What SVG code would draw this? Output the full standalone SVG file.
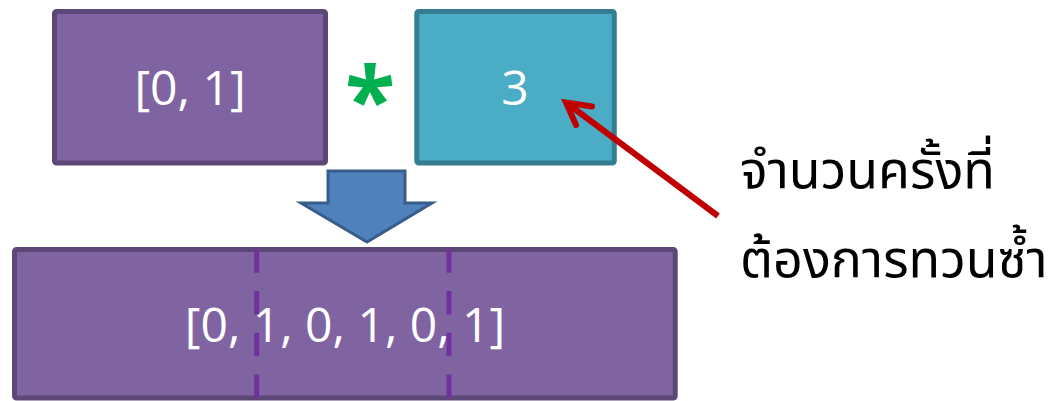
<svg xmlns="http://www.w3.org/2000/svg" width="1060" height="401" viewBox="0 0 1060 401">
<style>
.purple{fill:#8064A2;stroke:#5C4776;stroke-width:5}
.teal{fill:#4BACC6;stroke:#357D91;stroke-width:5}
.lbl{font-family:"Open Sans","Liberation Sans",sans-serif;font-size:48px;fill:#FFFFFF;text-anchor:middle}
.thai{font-family:"Noto Sans Thai","Noto Sans","Noto Sans CJK SC",sans-serif;font-size:52px;fill:#000000}
.dash{stroke:#7030A0;stroke-width:5;stroke-dasharray:23.5 18.2;fill:none}
</style>
<rect width="1060" height="401" fill="#FFFFFF"/>
<g id="node-list">
<rect class="purple" x="54.5" y="11.5" width="271" height="151.5" rx="2"/>
<text class="lbl" x="190" y="105">[0, 1]</text>
</g>
<g id="node-times">
<text x="370" y="133" font-family="Open Sans, Liberation Sans, sans-serif" font-weight="bold" font-size="92" fill="#00B050" text-anchor="middle">*</text>
</g>
<g id="node-count">
<rect class="teal" x="416.8" y="11.5" width="197.5" height="151.5" rx="2"/>
<text class="lbl" x="515" y="105">3</text>
</g>
<g id="node-result">
<rect class="purple" x="14.5" y="249.5" width="660.7" height="148.5" rx="2"/>
<text class="lbl" x="345" y="342">[0, 1, 0, 1, 0, 1]</text>
<line class="dash" x1="256.7" y1="249.3" x2="256.7" y2="401"/>
<line class="dash" x1="449" y1="249.3" x2="449" y2="401"/>
</g>
<g id="node-note">
<text class="thai" x="740" y="188">จำนวนครั้งที่</text>
<text class="thai" x="740" y="277">ต้องการทวนซ้ำ</text>
</g>
<g id="connectors">
<polygon points="328,171 405,171 405,203 432,203 367,242 301,203 328,203" fill="#4F81BD" stroke="#385D8A" stroke-width="3" stroke-linejoin="miter"/>
<line x1="718" y1="216" x2="568" y2="104" stroke="#C00000" stroke-width="6"/>
<polyline points="592,106.5 566,102.5 576,125" fill="none" stroke="#C00000" stroke-width="6" stroke-linecap="round" stroke-linejoin="miter"/>
</g>
</svg>
